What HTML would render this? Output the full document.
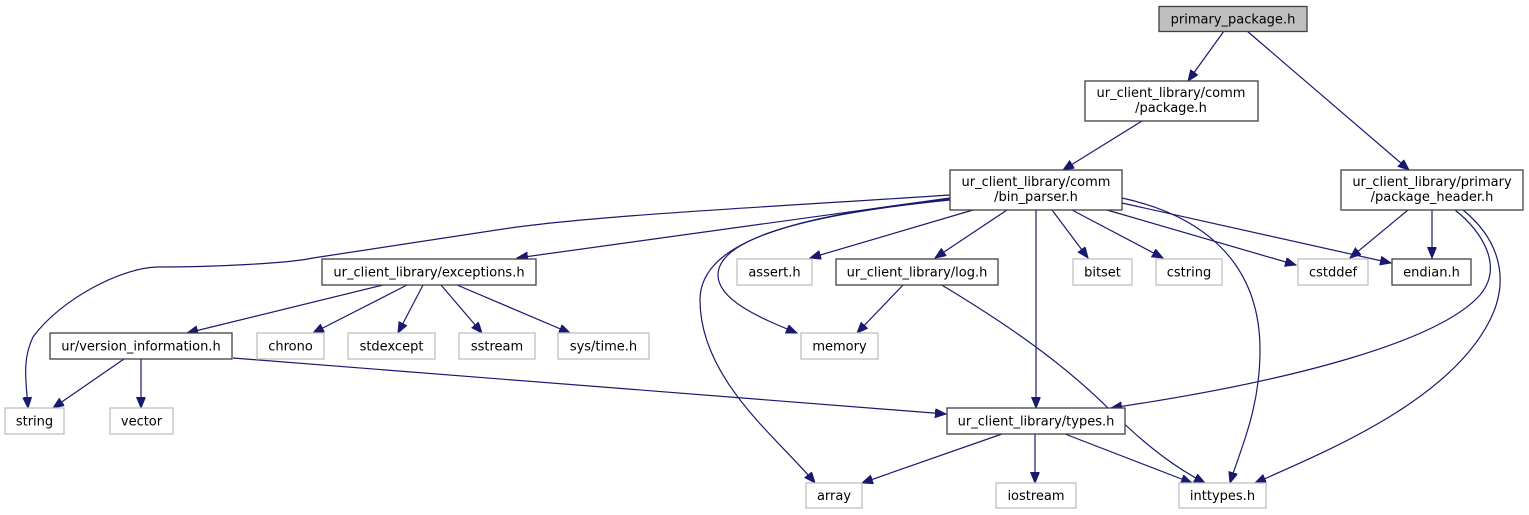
<!DOCTYPE html>
<html><head><meta charset="utf-8"><style>
html,body{margin:0;padding:0;background:#fff;}
svg{display:block;}
text{font-family:"DejaVu Sans","Liberation Sans",sans-serif;font-size:13px;fill:#000;text-anchor:middle;}
.n{fill:#fff;stroke:#404040;stroke-width:1.3;}
.g{fill:#fff;stroke:#bfbfbf;stroke-width:1.3;}
.e{fill:none;stroke:#191970;stroke-width:1.2;}
</style></head><body>
<svg width="1529" height="515" viewBox="0 0 1529 515" xmlns="http://www.w3.org/2000/svg">
<defs><marker id="a" markerUnits="userSpaceOnUse" markerWidth="12" markerHeight="10" refX="11" refY="4.5" orient="auto"><path d="M0,0 L11,4.5 L0,9 z" fill="#191970" stroke="#191970"/></marker></defs>
<g marker-end="url(#a)">
<path class="e" d="M1224,31 L1188,81"/>
<path class="e" d="M1247,31 L1409,170"/>
<path class="e" d="M1142,121 L1063,170"/>
<path class="e" d="M950,195 C800,205 600,215 510,228 L313,258 C290,263 220,267 157,267 C120,268 60,300 33,337 C22,360 26,380 28,408"/>
<path class="e" d="M950,198 L517,258"/>
<path class="e" d="M950,199 C800,215 700,240 700,300 C700,380 780,440 815,483"/>
<path class="e" d="M950,200 C800,215 718,240 718,275 C718,300 760,318 797,333"/>
<path class="e" d="M973,210 L810,258"/>
<path class="e" d="M1007,210 L935,258"/>
<path class="e" d="M1036,210 L1036,408"/>
<path class="e" d="M1052,210 L1088,258"/>
<path class="e" d="M1072,210 L1163,258"/>
<path class="e" d="M1107,210 L1296,265"/>
<path class="e" d="M1122,203 L1391,263"/>
<path class="e" d="M1122,198 C1200,215 1260,260 1260,350 C1260,410 1240,450 1230,483"/>
<path class="e" d="M1408,210 L1350,258"/>
<path class="e" d="M1432,210 L1432,258"/>
<path class="e" d="M1455,210 C1480,230 1505,265 1480,295 C1440,340 1300,380 1111,408"/>
<path class="e" d="M1463,210 C1500,240 1510,280 1490,320 C1450,400 1330,450 1255,483"/>
<path class="e" d="M904,284 L857,333"/>
<path class="e" d="M940,284 C1000,320 1060,360 1110,410 C1150,450 1180,470 1205,483"/>
<path class="e" d="M383,285 L187,333"/>
<path class="e" d="M407,285 L313,333"/>
<path class="e" d="M423,285 L398,333"/>
<path class="e" d="M441,285 L482,333"/>
<path class="e" d="M457,285 L570,333"/>
<path class="e" d="M124,359 L53,408"/>
<path class="e" d="M141,359 L141,408"/>
<path class="e" d="M233,358 L946,414"/>
<path class="e" d="M1002,434 L862,483"/>
<path class="e" d="M1035,434 L1035,483"/>
<path class="e" d="M1065,434 L1192,483"/>
</g>
<rect x="1159" y="6.5" width="148" height="25" fill="#bfbfbf" stroke="#404040" stroke-width="1.3"/><text x="1233" y="23.5">primary_package.h</text>
<rect class="n" x="1085" y="81" width="173" height="40"/><text x="1171" y="97">ur_client_library/comm</text><text x="1171" y="112">/package.h</text>
<rect class="n" x="950" y="170" width="172" height="40"/><text x="1036" y="186">ur_client_library/comm</text><text x="1036" y="201">/bin_parser.h</text>
<rect class="n" x="1341" y="170" width="182" height="40"/><text x="1432" y="186">ur_client_library/primary</text><text x="1432" y="201">/package_header.h</text>
<rect class="n" x="322" y="259" width="214" height="26"/><text x="429" y="276.5">ur_client_library/exceptions.h</text>
<rect class="g" x="737" y="259" width="75" height="26"/><text x="774.5" y="276.5">assert.h</text>
<rect class="n" x="836" y="259" width="162" height="26"/><text x="917" y="276.5">ur_client_library/log.h</text>
<rect class="g" x="1073" y="259" width="59" height="26"/><text x="1102.5" y="276.5">bitset</text>
<rect class="g" x="1156" y="259" width="66" height="26"/><text x="1189" y="276.5">cstring</text>
<rect class="g" x="1298" y="259" width="70" height="26"/><text x="1333" y="276.5">cstddef</text>
<rect class="n" x="1392" y="259" width="79" height="26"/><text x="1431.5" y="276.5">endian.h</text>
<rect class="n" x="50" y="333" width="182" height="26"/><text x="141" y="350.5">ur/version_information.h</text>
<rect class="g" x="257" y="333" width="67" height="26"/><text x="290.5" y="350.5">chrono</text>
<rect class="g" x="348" y="333" width="87" height="26"/><text x="391.5" y="350.5">stdexcept</text>
<rect class="g" x="459" y="333" width="76" height="26"/><text x="497" y="350.5">sstream</text>
<rect class="g" x="558" y="333" width="91" height="26"/><text x="603.5" y="350.5">sys/time.h</text>
<rect class="g" x="801" y="333" width="77" height="26"/><text x="839.5" y="350.5">memory</text>
<rect class="g" x="5" y="408" width="59" height="26"/><text x="34.5" y="425.5">string</text>
<rect class="g" x="110" y="408" width="63" height="26"/><text x="141.5" y="425.5">vector</text>
<rect class="n" x="947" y="408" width="178" height="26"/><text x="1036" y="425.5">ur_client_library/types.h</text>
<rect class="g" x="806" y="483" width="56" height="25"/><text x="834" y="500">array</text>
<rect class="g" x="996" y="483" width="80" height="25"/><text x="1036" y="500">iostream</text>
<rect class="g" x="1179" y="483" width="87" height="25"/><text x="1222.5" y="500">inttypes.h</text>
</svg>
</body></html>
